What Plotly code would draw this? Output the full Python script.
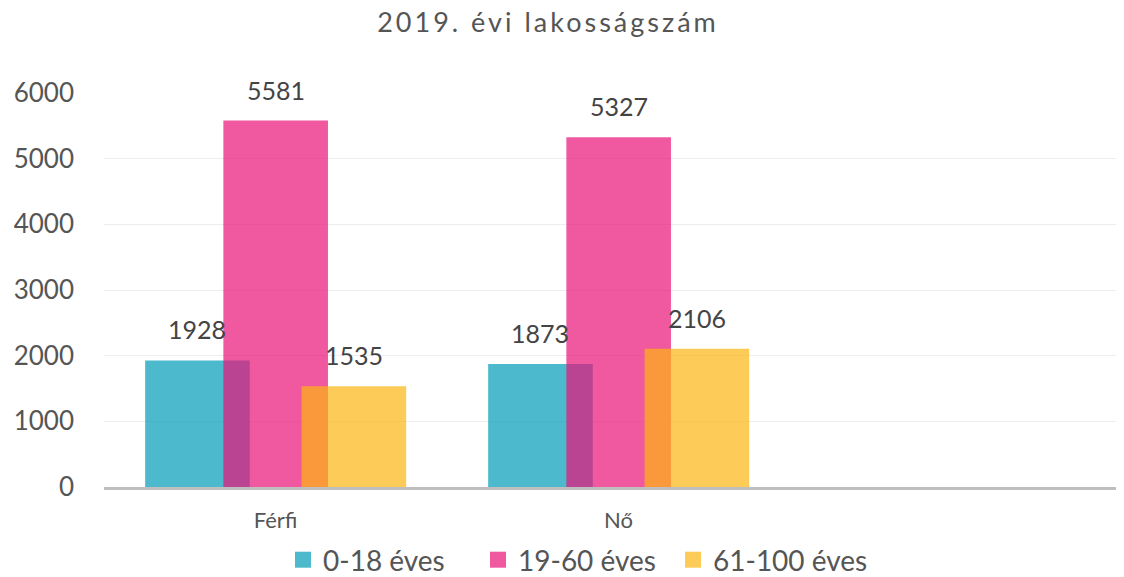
import plotly.graph_objects as go

categories = ["Férfi", "Nő"]
series_names = ["0-18 éves", "19-60 éves", "61-100 éves"]
values_0_18 = [1928, 1873]
values_19_60 = [5581, 5327]
values_61_100 = [1535, 2106]
y_ticks = [0, 1000, 2000, 3000, 4000, 5000, 6000]
title_text = "2019. évi lakosságszám"

series_values = [values_0_18, values_19_60, values_61_100]
colors = ["rgb(0,155,182)", "rgb(234,19,119)", "rgb(252,181,15)"]
opacity = 0.7
bar_width = 0.305
offsets = [-0.380, -0.152, 0.076]

FONT = "Lato"
TEXT = "#555555"
W, H = 1124, 577
S = 8  # page body offset

fig = go.Figure()
for name, vals, col, off in zip(series_names, series_values, colors, offsets):
    fig.add_trace(go.Bar(
        x=list(range(len(categories))), y=vals, name=name,
        marker=dict(color=col, line=dict(width=0)), opacity=opacity,
        width=bar_width, offset=off, showlegend=False, hoverinfo="skip",
    ))

for name, col in zip(series_names, colors):
    fig.add_trace(go.Scatter(
        x=[None], y=[None], mode="markers", name=name,
        marker=dict(symbol="square", size=17, color=col, opacity=opacity),
        showlegend=True,
    ))

annotations = []
for vals, off in zip(series_values, offsets):
    for i, v in enumerate(vals):
        annotations.append(dict(
            x=i + off + bar_width / 2, y=v, xref="x", yref="y",
            text=str(v), showarrow=False, yanchor="bottom", yshift=14,
            font=dict(family=FONT, size=25, color="#444444"),
        ))

plot_left = 104 - S
plot_top = 93 - S
plot_bottom = 487 - S
unit = 343.0

fig.update_layout(
    width=W, height=H,
    margin=dict(l=plot_left, r=0, t=plot_top, b=H - plot_bottom, autoexpand=False),
    paper_bgcolor="white", plot_bgcolor="white",
    barmode="overlay",
    title=dict(text='<span style="letter-spacing:3px">' + title_text + '</span>',
               x=(548 - S) / W, xanchor="center",
               y=1 - (23 - S) / H, yanchor="middle", xref="container", yref="container",
               font=dict(family=FONT, size=27, color=TEXT)),
    xaxis=dict(
        tickmode="array", tickvals=list(range(len(categories))), ticktext=categories,
        range=[-0.5, -0.5 + (W - plot_left) / unit], showgrid=False, zeroline=False,
        showline=True, linecolor="#BFBFBF", linewidth=3,
        ticks="", ticklabelstandoff=12, automargin=False,
        tickfont=dict(family=FONT, size=22, color=TEXT),
    ),
    yaxis=dict(
        range=[0, 6000], tickvals=y_ticks, showgrid=True, gridcolor="#EDEDED", gridwidth=1,
        zeroline=False, showline=False, ticks="", ticklabelstandoff=29, automargin=False,
        tickfont=dict(family=FONT, size=26, color=TEXT),
    ),
    legend=dict(orientation="h", xref="container", yref="container",
                x=(283 - S) / W, xanchor="left", y=1 - (560 - S) / H, yanchor="middle",
                font=dict(family=FONT, size=28, color=TEXT),
                itemwidth=30, tracegroupgap=0,
                entrywidth=150, entrywidthmode="pixels"),
    annotations=annotations,
)

fig.write_html("out.html")
